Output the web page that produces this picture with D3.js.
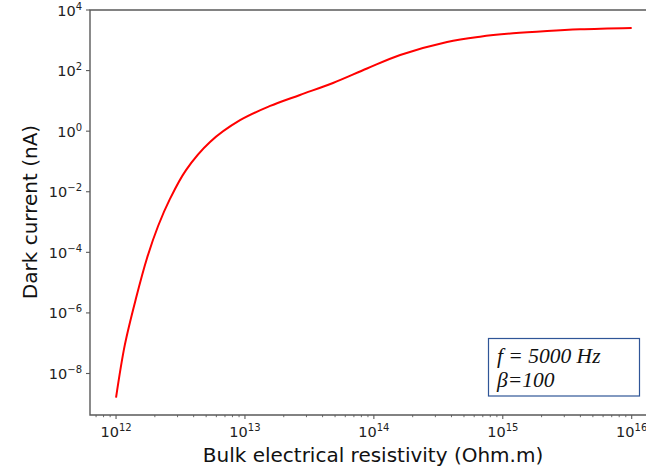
<!DOCTYPE html>
<html>
<head>
<meta charset="utf-8">
<script src="https://cdn.jsdelivr.net/npm/d3@7"></script>
<style>
  body { margin: 0; background: #fff; }
  svg { display: block; }
</style>
</head>
<body>
<div id="chart"></div>
<script>
// Data (resistivity in Ohm.m, dark current in nA)
const resistivity = [1e12, 1.17e12, 1.43e12, 1.74e12, 2.12e12, 2.62e12, 3.49e12, 5.36e12, 9.16e12,
    1.57e13, 2.67e13, 4.82e13, 8.85e13, 1.6e14, 3.7e14, 6.67e14, 1.2e15, 2.21e15, 3.98e15, 1e16];
const darkCurrent = [1.6e-9, 8.8e-8, 3.1e-6, 6.5e-5, 7.4e-4, 5.8e-3, 0.052, 0.44, 2.3,
    6.8, 15.7, 39, 117, 327, 880, 1315, 1700, 2030, 2300, 2550];
const xTickExps = [12, 13, 14, 15, 16];
const yTickExps = [4, 2, 0, -2, -4, -6, -8];
const noteLines = ["f = 5000 Hz", "β=100"];

const W = 646, H = 468;
const plot = { left: 90, right: 646, top: 10, bottom: 415 };

const svg = d3.select("#chart").append("svg")
    .attr("width", W).attr("height", H);

// scales: 10^12 sits at x=116, 10^16 at x=631.7
const x = d3.scaleLog()
    .domain([Math.pow(10, 11.798), Math.pow(10, 16.111)])
    .range([plot.left, plot.right]);
const y = d3.scaleLog()
    .domain([Math.pow(10, -9.37), 1e4])
    .range([plot.bottom, plot.top]);

const axisColor = "#5a5a5a";
const fontFam = "'DejaVu Sans', sans-serif";
const sup = e => (e < 0 ? "\u2212" + (-e) : "" + e);

// minor x ticks
const minor = [];
for (let d = 11; d <= 16; d++) {
    for (let m = 2; m <= 9; m++) {
        const v = m * Math.pow(10, d);
        if (v >= x.domain()[0] && v <= x.domain()[1]) minor.push(v);
    }
}
svg.append("g").selectAll("line").data(minor).join("line")
    .attr("x1", d => x(d)).attr("x2", d => x(d))
    .attr("y1", plot.bottom).attr("y2", plot.bottom + 2.2)
    .attr("stroke", axisColor).attr("stroke-width", 0.9);

// major x ticks + labels
const xt = svg.append("g").selectAll("g").data(xTickExps).join("g")
    .attr("transform", d => `translate(${x(Math.pow(10, d))},0)`);
xt.append("line").attr("y1", plot.bottom).attr("y2", plot.bottom + 4)
    .attr("stroke", axisColor).attr("stroke-width", 1.1);
const xl = xt.append("text")
    .attr("y", 437).attr("text-anchor", "middle")
    .attr("font-family", fontFam).attr("font-size", 14.5).attr("fill", "#222");
xl.append("tspan").text("10");
xl.append("tspan").attr("dy", -6).attr("font-size", 10).text(d => sup(d));

// y ticks + labels
const yt = svg.append("g").selectAll("g").data(yTickExps).join("g")
    .attr("transform", d => `translate(0,${y(Math.pow(10, d))})`);
yt.append("line").attr("x1", plot.left - 4).attr("x2", plot.left)
    .attr("stroke", axisColor).attr("stroke-width", 1.1);
const yl = yt.append("text")
    .attr("x", 82).attr("y", 5.5).attr("text-anchor", "end")
    .attr("font-family", fontFam).attr("font-size", 14.5).attr("fill", "#222");
yl.append("tspan").text("10");
yl.append("tspan").attr("dy", -6).attr("font-size", 10).text(d => sup(d));

// spines (left, bottom, top)
svg.append("path")
    .attr("d", `M${plot.right},${plot.top}H${plot.left}V${plot.bottom}H${plot.right}`)
    .attr("fill", "none").attr("stroke", axisColor).attr("stroke-width", 1.4);

// curve
const line = d3.line()
    .x(d => x(d[0]))
    .y(d => y(d[1]))
    .curve(d3.curveCatmullRom.alpha(0.5));
svg.append("path")
    .datum(d3.zip(resistivity, darkCurrent))
    .attr("d", line)
    .attr("fill", "none").attr("stroke", "#ff0000").attr("stroke-width", 2);

// axis titles
svg.append("text")
    .attr("x", 373).attr("y", 462).attr("text-anchor", "middle")
    .attr("font-family", fontFam).attr("font-size", 20).attr("fill", "#111")
    .text("Bulk electrical resistivity (Ohm.m)");
svg.append("text")
    .attr("transform", "translate(37,212) rotate(-90)")
    .attr("text-anchor", "middle")
    .attr("font-family", fontFam).attr("font-size", 20).attr("fill", "#111")
    .text("Dark current (nA)");

// annotation box
svg.append("rect")
    .attr("x", 488.5).attr("y", 338.5).attr("width", 151).attr("height", 57.5)
    .attr("fill", "#fff").attr("stroke", "#2f5597").attr("stroke-width", 1.2);
svg.append("g").selectAll("text").data(noteLines).join("text")
    .attr("x", 497).attr("y", (d, i) => 363 + i * 23.5)
    .attr("font-family", "'Liberation Serif', 'Times New Roman', serif")
    .attr("font-style", "italic").attr("font-size", 21.5).attr("fill", "#111")
    .text(d => d);
</script>
</body>
</html>
